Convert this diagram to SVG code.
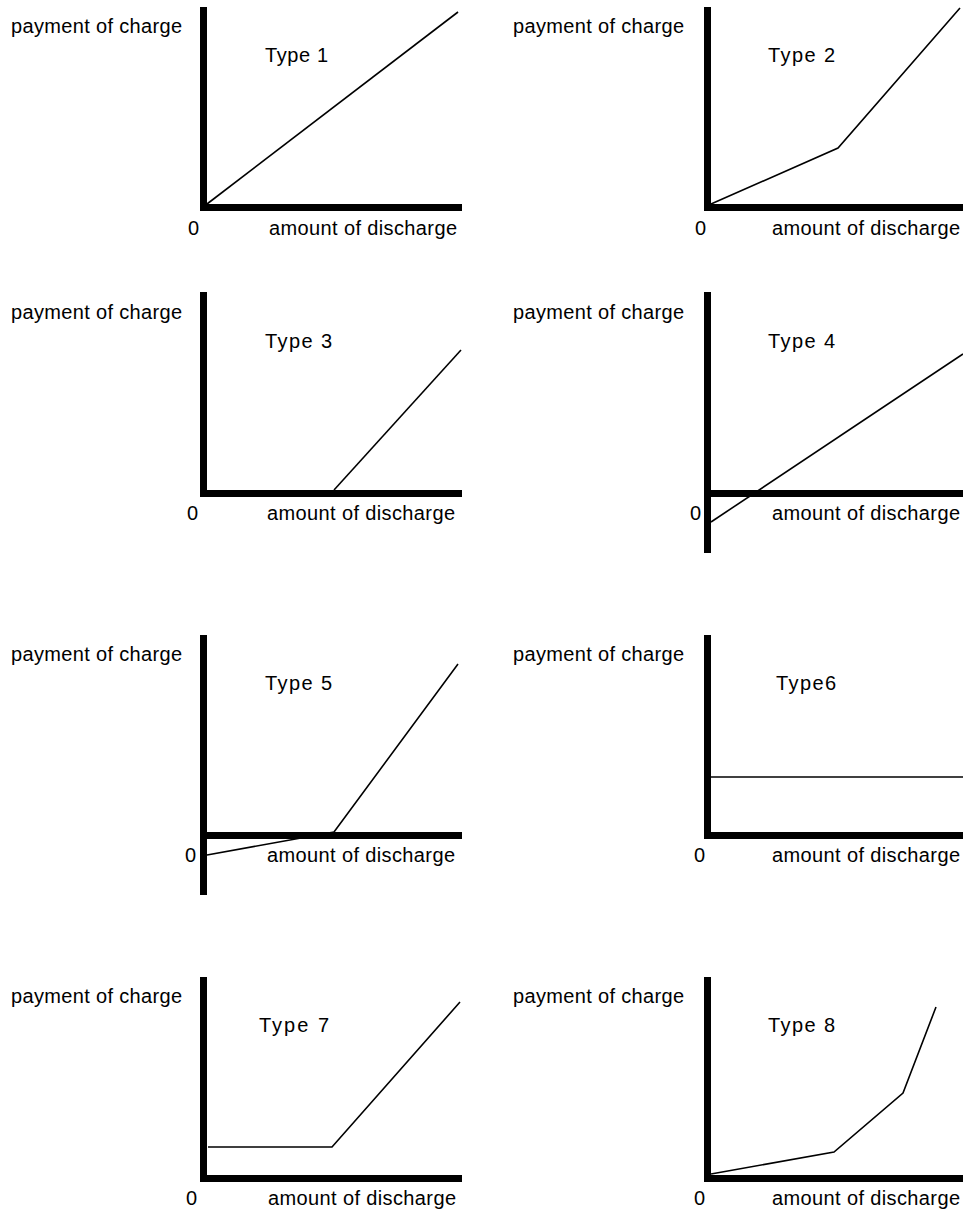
<svg xmlns="http://www.w3.org/2000/svg" width="963" height="1209" viewBox="0 0 963 1209">
<style>
text{font-family:"Liberation Sans",Arial,sans-serif;font-size:20px;fill:#000}
.ax{fill:#000}
.ln{fill:none;stroke:#000;stroke-width:1.6;stroke-linejoin:miter}
</style>
<rect width="963" height="1209" fill="#fff"/>
<g id="type1">
<rect class="ax" x="200" y="7" width="7" height="204"/>
<rect class="ax" x="200" y="204" width="262" height="7"/>
<text x="11" y="33" textLength="171">payment of charge</text>
<text x="265" y="62" textLength="63">Type 1</text>
<text x="188" y="235">0</text>
<text x="269" y="235" textLength="188">amount of discharge</text>
</g>
<g id="type2">
<rect class="ax" x="704" y="7" width="7" height="204"/>
<rect class="ax" x="704" y="204" width="259" height="7"/>
<text x="513" y="33" textLength="171">payment of charge</text>
<text x="768" y="62" textLength="67">Type 2</text>
<text x="695" y="235">0</text>
<text x="772" y="235" textLength="188">amount of discharge</text>
</g>
<g id="type3">
<rect class="ax" x="200" y="292" width="7" height="205"/>
<rect class="ax" x="200" y="490" width="262" height="7"/>
<text x="11" y="319" textLength="171">payment of charge</text>
<text x="265" y="348" textLength="67">Type 3</text>
<text x="187" y="520">0</text>
<text x="267" y="520" textLength="188">amount of discharge</text>
</g>
<g id="type4">
<rect class="ax" x="704" y="292" width="7" height="261"/>
<rect class="ax" x="704" y="490" width="259" height="7"/>
<text x="513" y="319" textLength="171">payment of charge</text>
<text x="768" y="348" textLength="67">Type 4</text>
<text x="690" y="520">0</text>
<text x="772" y="520" textLength="188">amount of discharge</text>
</g>
<g id="type5">
<rect class="ax" x="200" y="635" width="7" height="260"/>
<rect class="ax" x="200" y="832" width="262" height="7"/>
<text x="11" y="661" textLength="171">payment of charge</text>
<text x="265" y="690" textLength="67">Type 5</text>
<text x="185" y="862">0</text>
<text x="267" y="862" textLength="188">amount of discharge</text>
</g>
<g id="type6">
<rect class="ax" x="704" y="635" width="7" height="204"/>
<rect class="ax" x="704" y="832" width="259" height="7"/>
<text x="513" y="661" textLength="171">payment of charge</text>
<text x="776" y="690" textLength="60">Type6</text>
<text x="694" y="862">0</text>
<text x="772" y="862" textLength="188">amount of discharge</text>
</g>
<g id="type7">
<rect class="ax" x="200" y="977" width="7" height="205"/>
<rect class="ax" x="200" y="1175" width="262" height="7"/>
<text x="11" y="1003" textLength="171">payment of charge</text>
<text x="259" y="1032" textLength="70">Type 7</text>
<text x="186" y="1205">0</text>
<text x="268" y="1205" textLength="188">amount of discharge</text>
</g>
<g id="type8">
<rect class="ax" x="704" y="977" width="7" height="205"/>
<rect class="ax" x="704" y="1175" width="259" height="7"/>
<text x="513" y="1003" textLength="171">payment of charge</text>
<text x="768" y="1032" textLength="67">Type 8</text>
<text x="694" y="1205">0</text>
<text x="772" y="1205" textLength="188">amount of discharge</text>
</g>
<g id="connectors">
<polyline class="ln" points="207,204 458,12"/>
<polyline class="ln" points="711,204 838,148 960,8"/>
<polyline class="ln" points="334,490 461,350"/>
<polyline class="ln" points="711,522 963,354"/>
<polyline class="ln" points="207,855 334,832 458,664"/>
<polyline class="ln" points="711,777 963,777"/>
<polyline class="ln" points="208,1147 332,1147 460,1002"/>
<polyline class="ln" points="711,1174 834,1152 903,1093 936,1007"/>
</g>
</svg>
